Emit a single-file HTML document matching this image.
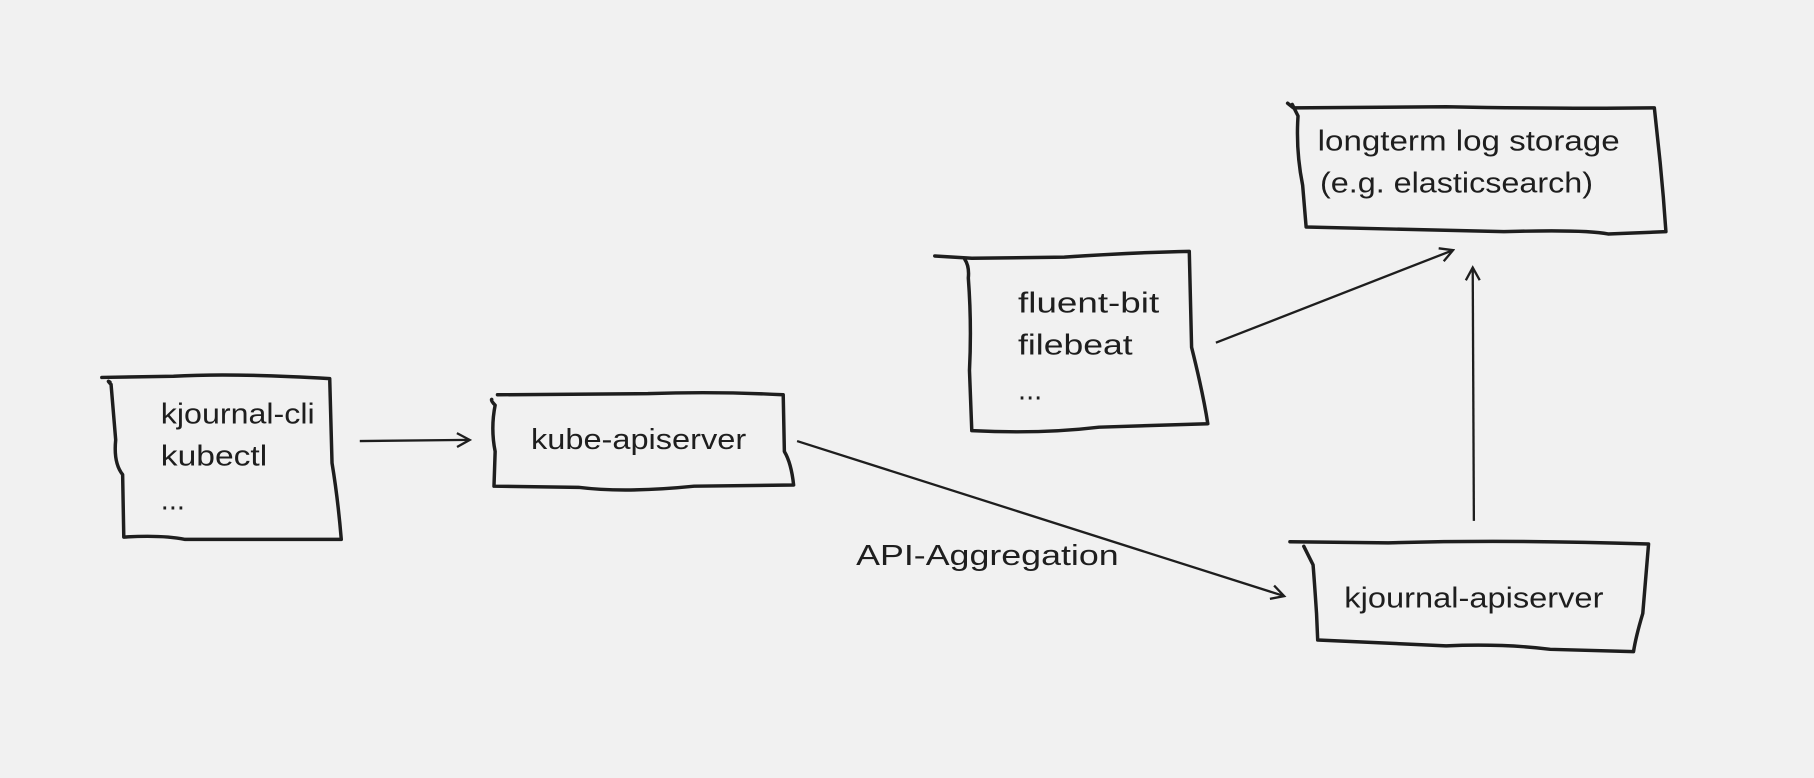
<!DOCTYPE html>
<html><head><meta charset="utf-8">
<style>
html,body{margin:0;padding:0;background:#f1f1f1;}
svg{display:block}
text{font-family:"Liberation Sans",sans-serif;font-size:25px;fill:#1e1e1e;}
</style></head>
<body>
<svg width="1814" height="778" viewBox="0 0 1568 672" xmlns="http://www.w3.org/2000/svg">
<defs>
<marker id="ah" markerWidth="14" markerHeight="14" refX="12" refY="7" orient="auto" markerUnits="userSpaceOnUse">
<path d="M1,1 L12,7 L1,13" fill="none" stroke="#1e1e1e" stroke-width="2"/>
</marker>
</defs>
<rect width="1568" height="672" fill="#f1f1f1"/>
<g fill="none" stroke="#1e1e1e" stroke-width="3" stroke-linejoin="round" stroke-linecap="round">
<path d="M88,326 L150,325 Q200,322 285,327 L287,400 Q292,430 295,466 L160,466 Q140,462 107,464 L106,410 Q98,400 100,380 L96,332 Q92,328 95,330"/>
<path d="M430,341 L560,340 Q620,338 677,341 L678,390 Q684,400 686,419 L600,420 Q540,426 500,421 L427,420 L428,390 Q424,370 428,350 Q424,346 425,345"/>
<path d="M808,221 L840,223 L920,222 Q980,218 1028,217 L1030,300 Q1040,340 1044,366 L950,369 Q900,375 840,372 L838,320 Q840,280 837,240 Q838,230 834,224"/>
<path d="M1113,89 L1118,93 L1250,92 Q1350,94 1430,93 L1435,140 Q1438,170 1440,200 L1390,202 Q1370,198 1300,200 L1129,196 L1126,160 Q1120,130 1122,100 Q1118,92 1117,90"/>
<path d="M1115,468 L1200,469 Q1300,466 1425,470 L1420,530 Q1414,550 1412,563 L1340,561 Q1300,556 1250,558 L1139,553 L1138,530 Q1136,500 1135,488 Q1130,478 1127,472"/>
</g>
<g stroke="#1e1e1e" stroke-width="2" fill="none">
<line x1="311" y1="381" x2="406" y2="380" marker-end="url(#ah)"/>
<line x1="689" y1="381" x2="1110" y2="515" marker-end="url(#ah)"/>
<line x1="1051" y1="296" x2="1256" y2="216" marker-end="url(#ah)"/>
<line x1="1274" y1="450" x2="1273" y2="231" marker-end="url(#ah)"/>
</g>
<text x="139" y="366" textLength="133" lengthAdjust="spacingAndGlyphs">kjournal-cli</text>
<text x="139" y="402" textLength="92" lengthAdjust="spacingAndGlyphs">kubectl</text>
<text x="139" y="440">...</text>
<text x="459" y="388" textLength="186" lengthAdjust="spacingAndGlyphs">kube-apiserver</text>
<text x="880" y="270" textLength="122" lengthAdjust="spacingAndGlyphs">fluent-bit</text>
<text x="880" y="306" textLength="99" lengthAdjust="spacingAndGlyphs">filebeat</text>
<text x="880" y="345">...</text>
<text x="1139" y="130" textLength="261" lengthAdjust="spacingAndGlyphs">longterm log storage</text>
<text x="1141" y="166" textLength="236" lengthAdjust="spacingAndGlyphs">(e.g. elasticsearch)</text>
<text x="1162" y="525" textLength="224" lengthAdjust="spacingAndGlyphs">kjournal-apiserver</text>
<text x="740" y="488" textLength="227" lengthAdjust="spacingAndGlyphs">API-Aggregation</text>
</svg>
</body></html>
